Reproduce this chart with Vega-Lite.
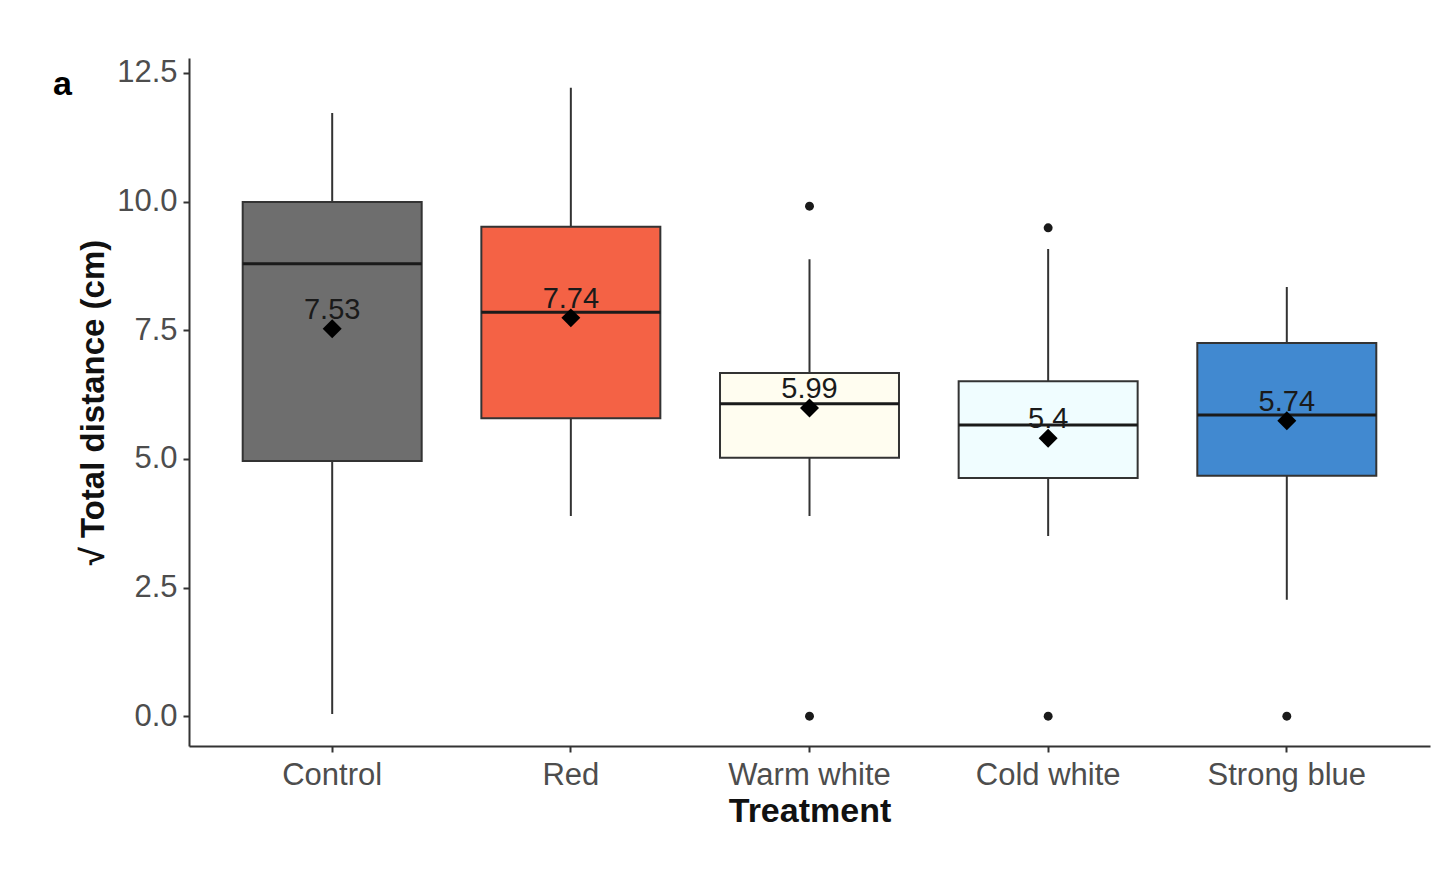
{
  "$schema": "https://vega.github.io/schema/vega-lite/v6.json",
  "autosize": {"type": "none"},
  "width": 1241,
  "height": 688,
  "padding": {"left": 189, "top": 58, "right": 6, "bottom": 134},
  "background": "white",
  "config": {
    "font": "Liberation Sans",
    "view": {"stroke": null},
    "axis": {"grid": false, "domainColor": "#333333", "domainWidth": 2, "tickColor": "#333333", "tickWidth": 2, "tickSize": 6, "labelColor": "#4d4d4d", "labelFont": "Liberation Sans", "titleFont": "Liberation Sans", "titleFontWeight": "bold", "titleColor": "#111111"}
  },
  "title": {"text": "a", "fontSize": 34, "fontWeight": "bold", "anchor": "start", "frame": "group", "baseline": "middle", "dx": -136, "dy": 66, "font": "Liberation Sans"},
  "datasets": {
    "boxes": [
      {"treatment": "Control", "lower": 0.04, "q1": 4.96, "median": 8.79, "q3": 9.99, "upper": 11.72, "mean": 7.53, "meanLabel": "7.53"},
      {"treatment": "Red", "lower": 3.89, "q1": 5.79, "median": 7.85, "q3": 9.51, "upper": 12.21, "mean": 7.74, "meanLabel": "7.74"},
      {"treatment": "Warm white", "lower": 3.89, "q1": 5.02, "median": 6.07, "q3": 6.67, "upper": 8.88, "mean": 5.99, "meanLabel": "5.99"},
      {"treatment": "Cold white", "lower": 3.5, "q1": 4.63, "median": 5.66, "q3": 6.51, "upper": 9.08, "mean": 5.4, "meanLabel": "5.4"},
      {"treatment": "Strong blue", "lower": 2.26, "q1": 4.67, "median": 5.85, "q3": 7.25, "upper": 8.34, "mean": 5.74, "meanLabel": "5.74"}
    ],
    "outliers": [
      {"treatment": "Warm white", "value": 9.91},
      {"treatment": "Warm white", "value": 0.0},
      {"treatment": "Cold white", "value": 9.49},
      {"treatment": "Cold white", "value": 0.0},
      {"treatment": "Strong blue", "value": 0.0}
    ]
  },
  "data": {"name": "boxes"},
  "encoding": {
    "x": {
      "field": "treatment", "type": "nominal",
      "sort": ["Control", "Red", "Warm white", "Cold white", "Strong blue"],
      "scale": {"type": "band", "paddingInner": 0, "paddingOuter": 0.1},
      "axis": {"title": "Treatment", "labelAngle": 0, "labelFontSize": 31, "titleFontSize": 34, "labelPadding": 8, "titlePadding": 4}
    }
  },
  "layer": [
    {
      "mark": {"type": "rule", "color": "#333333", "strokeWidth": 2},
      "encoding": {
        "y": {"field": "lower", "type": "quantitative", "scale": {"domain": [-0.58, 12.79], "nice": false, "zero": false},
          "axis": {"title": "√ Total distance (cm)", "values": [0, 2.5, 5, 7.5, 10, 12.5], "format": ".1f", "labelFontSize": 31, "titleFontSize": 33, "labelPadding": 6, "titlePadding": 6}},
        "y2": {"field": "upper"}
      }
    },
    {
      "mark": {"type": "bar", "stroke": "#333333", "strokeWidth": 2, "width": {"band": 0.75}},
      "encoding": {
        "y": {"field": "q1", "type": "quantitative"},
        "y2": {"field": "q3"},
        "fill": {"field": "treatment", "type": "nominal", "legend": null,
          "scale": {"domain": ["Control", "Red", "Warm white", "Cold white", "Strong blue"], "range": ["#6e6e6e", "#f46245", "#fffdf0", "#f0fdff", "#4189d0"]}}
      }
    },
    {
      "mark": {"type": "tick", "color": "#1a1a1a", "thickness": 3, "size": 179, "opacity": 1},
      "encoding": {"y": {"field": "median", "type": "quantitative"}}
    },
    {
      "data": {"name": "outliers"},
      "mark": {"type": "point", "filled": true, "color": "#1a1a1a", "size": 80, "opacity": 1},
      "encoding": {"y": {"field": "value", "type": "quantitative"}}
    },
    {
      "mark": {"type": "point", "shape": "diamond", "filled": true, "color": "#000000", "size": 360, "opacity": 1},
      "encoding": {"y": {"field": "mean", "type": "quantitative"}}
    },
    {
      "mark": {"type": "text", "fontSize": 29, "color": "#1a1a1a", "baseline": "alphabetic", "dy": -10},
      "encoding": {"y": {"field": "mean", "type": "quantitative"}, "text": {"field": "meanLabel"}}
    }
  ]
}
